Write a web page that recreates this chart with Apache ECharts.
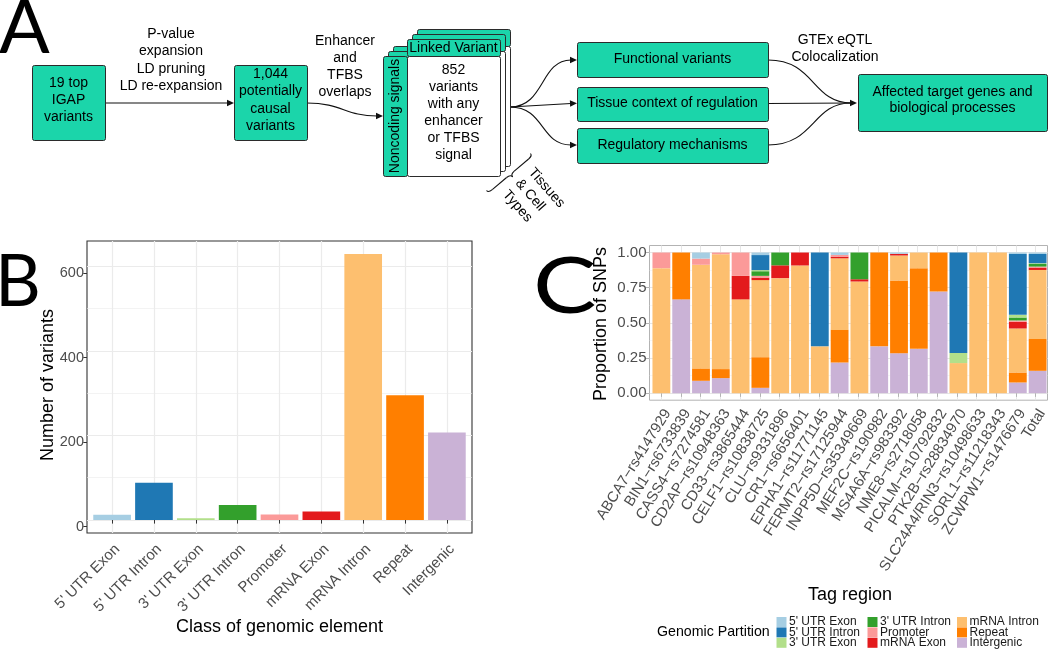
<!DOCTYPE html>
<html><head><meta charset="utf-8">
<script src="https://cdn.jsdelivr.net/npm/echarts@6/dist/echarts.min.js"></script>
<style>html,body{margin:0;padding:0;background:#fff}#chart{width:1050px;height:650px}</style>
</head><body><div id="chart"></div>
<script>
// ---------------- DATA ----------------
const partitions = ["5' UTR Exon", "5' UTR Intron", "3' UTR Exon", "3' UTR Intron", "Promoter", "mRNA Exon", "mRNA Intron", "Repeat", "Intergenic"];
// Panel B: number of variants per class of genomic element
const variantCounts = [12, 88, 4, 35, 13, 20, 629, 295, 207];
const countTicks = [0, 200, 400, 600];
const countMinorTicks = [100, 300, 500];
// Panel C: proportion of SNPs per tag region
const tagRegions = ["ABCA7\u2212rs4147929", "BIN1\u2212rs6733839", "CASS4\u2212rs7274581", "CD2AP\u2212rs10948363", "CD33\u2212rs3865444", "CELF1\u2212rs10838725", "CLU\u2212rs9331896", "CR1\u2212rs6656401", "EPHA1\u2212rs11771145", "FERMT2\u2212rs17125944", "INPP5D\u2212rs35349669", "MEF2C\u2212rs190982", "MS4A6A\u2212rs983392", "NME8\u2212rs2718058", "PICALM\u2212rs10792832", "PTK2B\u2212rs28834970", "SLC24A4/RIN3\u2212rs10498633", "SORL1\u2212rs11218343", "ZCWPW1\u2212rs1476679", "Total"];
const propTicks = [0, 0.25, 0.5, 0.75, 1];
const propMinorTicks = [0.125, 0.375, 0.625, 0.875];
const prop5UtrExon   = [0, 0, 0.043, 0, 0, 0.018, 0, 0, 0, 0.017, 0, 0, 0.009, 0, 0, 0, 0, 0, 0.010, 0.010];
const prop5UtrIntron = [0, 0, 0, 0, 0, 0.107, 0, 0, 0.667, 0, 0, 0, 0, 0, 0, 0.714, 0, 0, 0.433, 0.066];
const prop3UtrExon   = [0, 0, 0, 0, 0, 0.008, 0, 0, 0, 0, 0, 0, 0, 0, 0, 0.072, 0, 0, 0.019, 0.005];
const prop3UtrIntron = [0, 0, 0, 0, 0, 0.033, 0.091, 0, 0, 0, 0.190, 0, 0, 0, 0, 0, 0, 0, 0.021, 0.019];
const propPromoter   = [0.111, 0, 0.044, 0.012, 0.166, 0.012, 0, 0, 0, 0.012, 0, 0, 0, 0, 0, 0, 0, 0, 0.010, 0.007];
const propMrnaExon   = [0, 0, 0, 0, 0.167, 0.018, 0.091, 0.092, 0, 0.012, 0.016, 0, 0.012, 0, 0, 0, 0, 0, 0.047, 0.017];
const propMrnaIntron = [0.889, 0, 0.737, 0.817, 0.667, 0.548, 0.818, 0.908, 0.333, 0.509, 0.794, 0, 0.178, 0.112, 0, 0.214, 1, 1, 0.313, 0.490];
const propRepeat     = [0, 0.333, 0.088, 0.064, 0, 0.218, 0, 0, 0, 0.232, 0, 0.667, 0.517, 0.573, 0.277, 0, 0, 0, 0.071, 0.227];
const propIntergenic = [0, 0.667, 0.088, 0.107, 0, 0.038, 0, 0, 0, 0.218, 0, 0.333, 0.284, 0.315, 0.723, 0, 0, 0, 0.076, 0.159];

// ---------------- STYLE ----------------
const partitionColors = ['#A6CEE3', '#1F78B4', '#B2DF8A', '#33A02C', '#FB9A99', '#E31A1C', '#FDBF6F', '#FF7F00', '#CAB2D6'];
const propByPartition = [prop5UtrExon, prop5UtrIntron, prop3UtrExon, prop3UtrIntron, propPromoter, propMrnaExon, propMrnaIntron, propRepeat, propIntergenic];
const FONT = '"Liberation Sans", Arial, sans-serif';
const LETTER_FONT = 'Lato, "Open Sans", sans-serif';
const TEAL = '#1BD5AA';
const STROKE = '#2b2b2b';

function T(x, y, text, size, opt) {
  opt = opt || {};
  const al = opt.align || 'center', va = opt.va || 'middle';
  return { type: 'text', x: x, y: y, rotation: opt.rot || 0, scaleX: opt.sx || 1, z: opt.z || 20,
    style: { text: text, font: size + 'px ' + (opt.family || FONT), fill: opt.color || '#000',
      align: al, verticalAlign: va, textAlign: al, textVerticalAlign: va,
      lineHeight: opt.lh || Math.round(size * 1.2) } };
}
function R(x, y, w, h, fill, z) {
  return { type: 'rect', z: z || 10, shape: { x: x + 0.5, y: y + 0.5, width: w, height: h, r: 2 },
    style: { fill: fill, stroke: STROKE, lineWidth: 1 } };
}
function AH(tx, ty, dx, dy) {
  const L = 7, W = 3.2, len = Math.hypot(dx, dy); dx /= len; dy /= len;
  const nx = -dy, ny = dx;
  return { type: 'polygon', z: 12, shape: { points: [[tx, ty], [tx - L * dx + W * nx, ty - L * dy + W * ny], [tx - L * dx - W * nx, ty - L * dy - W * ny]] },
    style: { fill: '#111' } };
}
function BZ(x1, y1, c1x, c1y, c2x, c2y, x2, y2) {
  return { type: 'bezierCurve', z: 8, shape: { x1: x1, y1: y1, cpx1: c1x, cpy1: c1y, cpx2: c2x, cpy2: c2y, x2: x2, y2: y2 },
    style: { stroke: '#111', lineWidth: 1.1, fill: 'none' } };
}
function LN(x1, y1, x2, y2) {
  return { type: 'line', z: 8, shape: { x1: x1, y1: y1, x2: x2, y2: y2 }, style: { stroke: '#111', lineWidth: 1.1 } };
}

// ---------------- PANEL A (flow diagram) ----------------
const g = [];
g.push(T(-1, 29, 'A', 75, { align: 'left', family: LETTER_FONT }));
g.push(T(-5, 283, 'B', 71, { align: 'left', family: LETTER_FONT }));
g.push(T(533, 288, 'C', 78, { align: 'left', family: LETTER_FONT, sx: 1.22 }));

g.push(R(32, 65, 73, 75, TEAL));
g.push(T(68.5, 100, '19 top\nIGAP\nvariants', 14, { lh: 17 }));
g.push(LN(105, 103, 228, 103)); g.push(AH(234, 103, 1, 0));
g.push(T(171, 60, 'P-value\nexpansion\nLD pruning\nLD re-expansion', 14, { lh: 17.3 }));

g.push(R(234, 65, 73, 75, TEAL));
g.push(T(270.5, 100, '1,044\npotentially\ncausal\nvariants', 14, { lh: 17.3 }));
g.push(BZ(307, 103, 342, 103, 345, 116, 377, 116)); g.push(AH(383, 116, 1, 0));
g.push(T(345, 66.5, 'Enhancer\nand\nTFBS\noverlaps', 14, { lh: 17 }));

// stacked cards (back to front)
[[10, -10], [5, -5], [0, 0]].forEach(function (o, i) {
  const dx = o[0], dy = o[1];
  g.push(R(383 + dx, 56 + dy, 24, 120, TEAL, 10 + i));
  g.push(R(407 + dx, 39 + dy, 93, 17, TEAL, 10 + i));
  g.push(R(407 + dx, 56 + dy, 93, 120, '#ffffff', 10 + i));
});
g.push(T(453.5, 48, 'Linked Variant', 14, { z: 30 }));
g.push(T(395.5, 116, 'Noncoding signals', 14, { rot: Math.PI / 2, z: 30 }));
g.push(T(453.5, 112.5, '852\nvariants\nwith any\nenhancer\nor TFBS\nsignal', 14, { lh: 17, z: 30 }));

// brace + tissues label
(function () {
  const L = Math.hypot(44, 37), h = L / 2;
  const st = { stroke: '#111', fill: 'none', lineWidth: 1.1 };
  function q(x1, y1, cx, cy, x2, y2) { return { type: 'bezierCurve', shape: { x1: x1, y1: y1, cpx1: cx, cpy1: cy, x2: x2, y2: y2 }, style: st }; }
  function l(x1, y1, x2, y2) { return { type: 'line', shape: { x1: x1, y1: y1, x2: x2, y2: y2 }, style: st }; }
  g.push({ type: 'group', x: 486.5, y: 190.5, rotation: Math.atan2(37, 44), z: 9, children: [
    q(0, 0, 0, 3, 5, 3), l(5, 3, h - 5, 3), q(h - 5, 3, h, 3, h, 6.5),
    q(h, 6.5, h, 3, h + 5, 3), l(h + 5, 3, L - 5, 3), q(L - 5, 3, L, 3, L, 0)] });
})();
g.push(T(518, 181, 'Tissues\n& Cell\nTypes', 14, { align: 'left', rot: -0.855, lh: 17 }));

// fan to three boxes
g.push(BZ(510, 107, 545, 107, 540, 60, 571, 60)); g.push(AH(577, 60, 1, 0));
g.push(LN(510, 107, 571, 103.5)); g.push(AH(577, 103.2, 1, -0.05));
g.push(BZ(510, 107, 545, 107, 540, 145, 571, 145)); g.push(AH(577, 145, 1, 0));
g.push(R(577, 42, 191, 35, TEAL));
g.push(T(672.5, 59, 'Functional variants', 14));
g.push(R(577, 87, 191, 34, TEAL));
g.push(T(672.5, 103, 'Tissue context of regulation', 14));
g.push(R(577, 128, 191, 35, TEAL));
g.push(T(672.5, 145, 'Regulatory mechanisms', 14));

g.push(BZ(768, 60, 815, 60, 812, 103, 851, 103));
g.push(LN(768, 103.5, 851, 103));
g.push(BZ(768, 145, 815, 145, 812, 103, 851, 103));
g.push(AH(857, 103, 1, 0));
g.push(T(835, 48.5, 'GTEx eQTL\nColocalization', 14, { lh: 17 }));
g.push(R(858, 74, 189, 57, TEAL));
g.push(T(952.5, 100, 'Affected target genes and\nbiological processes', 14, { lh: 16.7 }));

// axis titles & legend title
g.push(T(279.5, 627, 'Class of genomic element', 18));
g.push(T(48, 385, 'Number of variants', 18, { rot: Math.PI / 2 }));
g.push(T(850, 595, 'Tag region', 18));
g.push(T(601.5, 324, 'Proportion of SNPs', 18, { rot: Math.PI / 2 }));
g.push(T(657, 632, 'Genomic Partition', 14.2, { align: 'left' }));

// ---------------- CHART ----------------
const bUnit = 385 / 9.2, cUnit = 400 / 20.2;
const idxB = partitions.map(function (_, i) { return i + 1; });
const idxC = tagRegions.map(function (_, i) { return i + 1; });
const cMin = -0.05, cMax = 1.05, bMin = -31, bMax = 660;

const series = [{
  type: 'bar', name: 'Number of variants', xAxisIndex: 1, yAxisIndex: 2, barWidth: '90%',
  data: variantCounts.map(function (v, i) { return { value: v, itemStyle: { color: partitionColors[i] } }; })
}];
for (let k = partitions.length - 1; k >= 0; k--) {
  series.push({ type: 'bar', name: partitions[k], stack: 'prop', xAxisIndex: 4, yAxisIndex: 6, barWidth: '90%',
    itemStyle: { color: partitionColors[k] }, data: propByPartition[k] });
}

function legendCol(names, left) {
  return { data: names, orient: 'vertical', left: left, top: 616, height: 60, padding: 0, itemWidth: 10, itemHeight: 10, itemGap: -1.6,
    icon: 'rect', selectedMode: false,
    textStyle: { fontSize: 12, color: '#1a1a1a', fontFamily: FONT, padding: [0, 0, 0, -2.5] } };
}

const option = {
  animation: false,
  backgroundColor: '#ffffff',
  textStyle: { fontFamily: FONT },
  grid: [
    { left: 87, top: 241, width: 385, height: 292, show: true, borderColor: '#333333', borderWidth: 1.1, backgroundColor: 'transparent' },
    { left: 87 + bUnit * 0.1, top: 241, width: bUnit * 9, height: 292 },
    { left: 87, top: 247.7, width: 385, height: 292 },
    { left: 649.5, top: 245.5, width: 400, height: 154.7, show: true, borderColor: '#b3b3b3', borderWidth: 1, backgroundColor: 'transparent' },
    { left: 649.5 + cUnit * 0.1, top: 245.5, width: cUnit * 20, height: 154.7 }
  ],
  xAxis: [
    { gridIndex: 0, type: 'value', min: 0.4, max: 9.6, offset: 7, axisLine: { show: false },
      axisTick: { show: true, customValues: idxB, length: 3.7, lineStyle: { color: '#333' } },
      axisLabel: { customValues: idxB, rotate: 45, fontSize: 15, color: '#4d4d4d', margin: 1.5, align: 'right', verticalAlign: 'top',
        formatter: function (v) { return partitions[Math.round(v) - 1]; } },
      splitLine: { show: true, lineStyle: { color: '#ebebeb', width: 1.2 } } },
    { gridIndex: 1, type: 'category', data: partitions, show: false },
    { gridIndex: 2, type: 'value', min: 0, max: 1, show: false },
    { gridIndex: 3, type: 'value', min: 0.4, max: 20.6, axisLine: { show: false },
      axisTick: { show: true, customValues: idxC, length: 3.7, lineStyle: { color: '#b3b3b3' } },
      axisLabel: { customValues: idxC, rotate: 58, fontSize: 14.8, color: '#4d4d4d', margin: 6.5, align: 'right', verticalAlign: 'top',
        formatter: function (v) { return tagRegions[Math.round(v) - 1]; } },
      splitLine: { show: true, lineStyle: { color: '#e6e6e6', width: 1 } } },
    { gridIndex: 4, type: 'category', data: tagRegions, show: false }
  ],
  yAxis: [
    { gridIndex: 0, type: 'value', min: bMin, max: bMax, axisLine: { show: false },
      axisTick: { show: false, customValues: countTicks }, axisLabel: { show: false, customValues: countTicks },
      splitLine: { show: true, lineStyle: { color: '#ebebeb', width: 1.2 } } },
    { gridIndex: 0, type: 'value', min: bMin, max: bMax, position: 'left', axisLine: { show: false },
      axisTick: { show: false, customValues: countMinorTicks }, axisLabel: { show: false, customValues: countMinorTicks },
      splitLine: { show: true, lineStyle: { color: '#ebebeb', width: 0.6 } } },
    { gridIndex: 1, type: 'value', min: bMin, max: bMax, show: false },
    { gridIndex: 2, type: 'value', min: bMin, max: bMax, axisLine: { show: false },
      axisTick: { show: true, customValues: countTicks, length: 3.7, lineStyle: { color: '#333' } },
      axisLabel: { customValues: countTicks, fontSize: 14.5, color: '#4d4d4d', margin: 3 },
      splitLine: { show: false } },
    { gridIndex: 3, type: 'value', min: cMin, max: cMax, axisLine: { show: false },
      axisTick: { show: true, customValues: propTicks, length: 3.7, lineStyle: { color: '#b3b3b3' } },
      axisLabel: { customValues: propTicks, fontSize: 15, color: '#4d4d4d', margin: 3,
        formatter: function (v) { return v.toFixed(2); } },
      splitLine: { show: true, lineStyle: { color: '#e6e6e6', width: 1 } } },
    { gridIndex: 3, type: 'value', min: cMin, max: cMax, position: 'left', axisLine: { show: false },
      axisTick: { show: false, customValues: propMinorTicks }, axisLabel: { show: false, customValues: propMinorTicks },
      splitLine: { show: true, lineStyle: { color: '#ececec', width: 0.5 } } },
    { gridIndex: 4, type: 'value', min: cMin, max: cMax, show: false }
  ],
  legend: [
    legendCol(partitions.slice(0, 3), 776.5),
    legendCol(partitions.slice(3, 6), 867.5),
    legendCol(partitions.slice(6, 9), 957)
  ],
  graphic: { elements: g },
  series: series
};

const chart = echarts.init(document.getElementById('chart'), null, { renderer: 'canvas' });
chart.setOption(option);
</script>
</body></html>
